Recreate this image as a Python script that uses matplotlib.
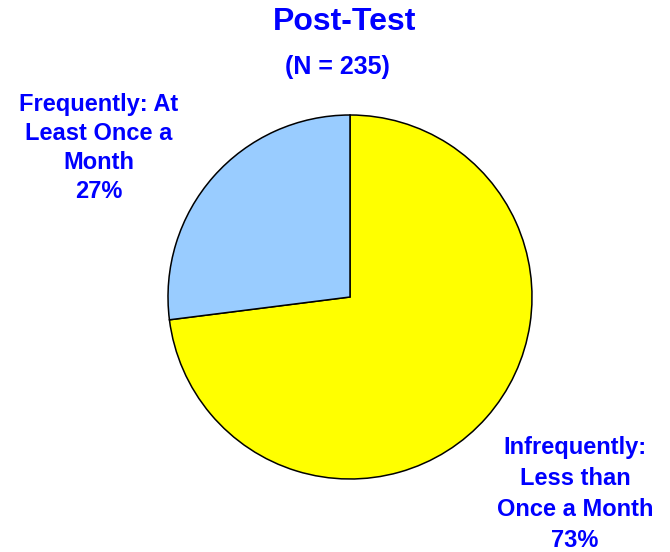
import matplotlib
matplotlib.use('Agg')
import matplotlib.pyplot as plt

plt.rcParams['font.family'] = ['Liberation Sans', 'DejaVu Sans']

# 数据
labels = ['Infrequently:\nLess than\nOnce a Month', 'Frequently: At\nLeast Once a\nMonth']
shares = [73, 27]
colors = ['#FFFF00', '#99CCFF']
title = 'Post-Test'
subtitle = '(N = 235)'

W, H = 670, 552
fig = plt.figure(figsize=(W / 100, H / 100), dpi=100)

# 饼图位置（像素换算）
cx, cy, r = 350, 297, 182
ax = fig.add_axes([(cx - r) / W, (H - cy - r) / H, 2 * r / W, 2 * r / H])
ax.pie(shares, colors=colors, startangle=90, counterclock=False, radius=1,
       wedgeprops=dict(edgecolor='black', linewidth=1.1))
ax.set_xlim(-1, 1)
ax.set_ylim(-1, 1)
ax.set_aspect('equal')
ax.axis('off')

blue = '#0000FF'
fig.text(345 / W, 1 - 22 / H, title, ha='center', va='center', fontsize=23,
         fontweight='bold', color=blue)
fig.text(337 / W, 1 - 67 / H, subtitle, ha='center', va='center', fontsize=18,
         fontweight='bold', color=blue)

# 标签
fig.text(575 / W, 1 - 494 / H, f'{labels[0]}\n{shares[0]}%', ha='center', va='center',
         fontsize=17, fontweight='bold', color=blue, linespacing=1.46)
fig.text(99 / W, 1 - 148 / H, f'{labels[1]}\n{shares[1]}%', ha='center', va='center',
         fontsize=17, fontweight='bold', color=blue, linespacing=1.35)

fig.savefig('out.png', dpi=100)
